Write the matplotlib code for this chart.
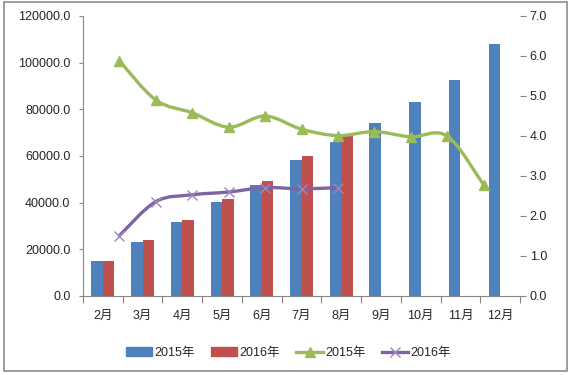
"""2015/2016 月度累计值（柱）与比率（折线）双轴图。"""
import numpy as np
import matplotlib
matplotlib.use("Agg")
import matplotlib.pyplot as plt
from matplotlib.path import Path
from matplotlib.patches import PathPatch, Rectangle, Patch
from matplotlib.lines import Line2D

plt.rcParams['font.family'] = ['Liberation Sans', 'Noto Sans CJK SC', 'DejaVu Sans']

months = ['2月', '3月', '4月', '5月', '6月', '7月', '8月', '9月', '10月', '11月', '12月']
bar_2015 = [14800, 23300, 31900, 40500, 47400, 58200, 66200, 74300, 83000, 92500, 108000]
bar_2016 = [14800, 23800, 32700, 41700, 49200, 60200, 69000]
line_2015 = [5.88, 4.90, 4.58, 4.22, 4.50, 4.17, 4.01, 4.11, 3.98, 4.00, 2.78]
line_2016 = [1.51, 2.36, 2.53, 2.60, 2.71, 2.68, 2.71]
series_names = ['2015年', '2016年']

C_BLUE, C_RED = '#4F81BD', '#C0504D'
C_GREEN, C_PURPLE = '#9BBB59', '#8064A2'
C_AXIS = '#868686'
C_TEXT = '#262626'
FS = 9


def smooth_path(xs, ys):
    # Excel 风格平滑线：Catmull-Rom -> 三次贝塞尔
    pts = np.column_stack([xs, ys]).astype(float)
    ext = np.vstack([pts[:1], pts, pts[-1:]])
    verts, codes = [pts[0]], [Path.MOVETO]
    for i in range(len(pts) - 1):
        p0, p1, p2, p3 = ext[i], ext[i + 1], ext[i + 2], ext[i + 3]
        verts += [p1 + (p2 - p0) / 6, p2 - (p3 - p1) / 6, p2]
        codes += [Path.CURVE4] * 3
    return Path(verts, codes)


fig = plt.figure(figsize=(5.71, 3.75), dpi=100)
rect = [83 / 571, 1 - 296 / 375, (520 - 83) / 571, (296 - 16) / 375]
ax = fig.add_axes(rect)

x = np.arange(len(months))
w = 0.29
ax.bar(x[:len(bar_2015)] - w / 2, bar_2015, w, color=C_BLUE)
ax.bar(x[:len(bar_2016)] + w / 2, bar_2016, w, color=C_RED)
ax.set_xlim(-0.5, len(months) - 0.5)
ax.set_ylim(0, 120000)
ax.set_yticks(np.arange(0, 120001, 20000))
ax.yaxis.set_major_formatter(lambda v, _: f"{v:.1f}")
ax.set_xticks(np.arange(-0.5, len(months)), labels=[])
ax.set_xticks(x, labels=months, minor=True)
ax.tick_params(axis='x', which='major', length=5, color=C_AXIS, direction='out')
ax.tick_params(axis='x', which='minor', length=0, pad=10, labelsize=FS, labelcolor=C_TEXT)
ax.tick_params(axis='y', length=3, color=C_AXIS, pad=6, labelsize=FS, labelcolor=C_TEXT)
for s in ['top', 'right']:
    ax.spines[s].set_visible(False)
for s in ['left', 'bottom']:
    ax.spines[s].set_color(C_AXIS)

# 折线使用次坐标轴
ax2 = fig.add_axes(rect, frameon=False)
ax2.set_xlim(0, len(months) + 1)
ax2.set_ylim(0, 7)
ax2.set_yticks(np.arange(0, 8))
ax2.yaxis.set_major_formatter(lambda v, _: f"{v:.1f}")
ax2.yaxis.tick_right()
ax2.set_xticks([])
ax2.tick_params(axis='y', length=4, color=C_AXIS, pad=3, labelsize=FS, labelcolor=C_TEXT)
ax2.spines['right'].set_visible(True)
ax2.spines['right'].set_color(C_AXIS)

lx15 = np.arange(1, len(line_2015) + 1)
lx16 = np.arange(1, len(line_2016) + 1)
ax2.add_patch(PathPatch(smooth_path(lx15, line_2015), fill=False, ec=C_GREEN, lw=2.4,
                        capstyle='round', joinstyle='round'))
ax2.plot(lx15, line_2015, ls='none', marker='^', ms=7, color=C_GREEN)
ax2.add_patch(PathPatch(smooth_path(lx16, line_2016), fill=False, ec=C_PURPLE, lw=2.4,
                        capstyle='round', joinstyle='round'))
ax2.plot(lx16, line_2016, ls='none', marker='x', ms=7, mew=1.0, color='#9A88BE')

handles = [Patch(color=C_BLUE), Patch(color=C_RED),
           Line2D([], [], color=C_GREEN, lw=2.4, marker='^', ms=7),
           Line2D([], [], color=C_PURPLE, lw=2.4, marker='x', ms=7, mew=1.0, mec='#9A88BE')]
fig.legend(handles, series_names * 2, loc='center', bbox_to_anchor=(0.505, 1 - 353 / 375),
           ncol=4, frameon=False, fontsize=FS, handlelength=2.1, handletextpad=0.2,
           columnspacing=1.3, labelcolor=C_TEXT)

fig.patches.append(Rectangle((4 / 571, 1 - 371 / 375), 563 / 571, 369 / 375,
                             transform=fig.transFigure, fill=False, ec='#8c8c8c', lw=1.2))

fig.savefig('out.png', dpi=100)
